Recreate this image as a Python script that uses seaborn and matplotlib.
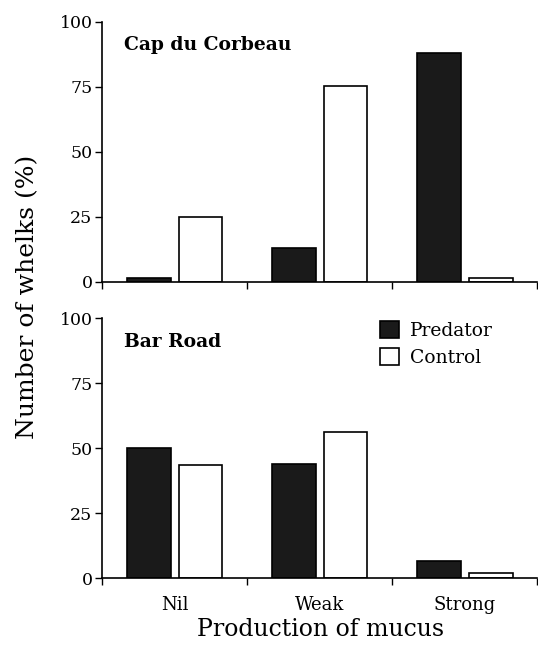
import numpy as np
import pandas as pd
import seaborn as sns
from matplotlib import pyplot as plt
from matplotlib.patches import Patch

sns.set_style("ticks")
plt.rcParams['font.family'] = ['DejaVu Serif']
plt.rcParams['text.color'] = 'black'
plt.rcParams['xtick.color'] = 'black'
plt.rcParams['ytick.color'] = 'black'
plt.rcParams['axes.edgecolor'] = 'black'

mucus = ['Nil', 'Weak', 'Strong']
treatments = ['Predator', 'Control']
sites = ['Cap du Corbeau', 'Bar Road']

# percent of whelks
cap_predator = [1.3, 13, 88]
cap_control = [25, 75.4, 1.5]
bar_predator = [50, 44, 6.8]
bar_control = [43.6, 56.3, 1.9]

rows = []
for site, pred, ctrl in [(sites[0], cap_predator, cap_control),
                         (sites[1], bar_predator, bar_control)]:
    for m, p, c in zip(mucus, pred, ctrl):
        rows.append((site, m, 'Predator', p))
        rows.append((site, m, 'Control', c))
df = pd.DataFrame(rows, columns=['Site', 'Mucus', 'Treatment', 'Percent'])

palette = {'Predator': '#1a1a1a', 'Control': 'white'}

fig = plt.figure(figsize=(5.38, 6.46), dpi=100)
ax_top = fig.add_axes([0.19, 0.564, 0.809, 0.402])
ax_bot = fig.add_axes([0.19, 0.105, 0.809, 0.402])

for ax, site in [(ax_top, sites[0]), (ax_bot, sites[1])]:
    sns.barplot(data=df[df['Site'] == site], x='Mucus', y='Percent',
                hue='Treatment', hue_order=treatments, order=mucus,
                palette=palette, edgecolor='black', linewidth=1.2,
                width=0.71, gap=0.15, legend=False, ax=ax)
    ax.set_xlim(-0.5, 2.5)
    ax.set_ylim(0, 100)
    ax.set_yticks([0, 25, 50, 75, 100])
    ax.set_xlabel('')
    ax.set_ylabel('')
    ax.set_xticks([0, 1, 2])
    ax.set_xticks([-0.5, 0.5, 1.5, 2.5], minor=True)
    ax.tick_params(axis='x', which='major', length=0, pad=13, labelsize=13)
    ax.tick_params(axis='x', which='minor', length=5, width=1, direction='out')
    ax.tick_params(axis='y', length=5, width=1, labelsize=12.5, pad=2)
    sns.despine(ax=ax)
    ax.spines['left'].set_linewidth(1.2)
    ax.spines['bottom'].set_linewidth(1.2)
    ax.text(0.05, 0.91, site, transform=ax.transAxes, fontsize=13.5,
            fontweight='bold', va='center', ha='left')

ax_top.set_xticklabels([])

handles = [Patch(facecolor=palette[t], edgecolor='black', linewidth=1.2, label=t)
           for t in treatments]
ax_bot.legend(handles=handles, loc='upper left', bbox_to_anchor=(0.6, 1.055),
              frameon=False, fontsize=13.5, handlelength=1.0, handleheight=1.0,
              handletextpad=0.6, labelspacing=0.45)

fig.text(0.052, 0.54, 'Number of whelks (%)', rotation=90, ha='center',
         va='center', fontsize=18)
fig.text(0.595, 0.025, 'Production of mucus', ha='center', va='center',
         fontsize=17)

fig.savefig('out.png', dpi=100)
